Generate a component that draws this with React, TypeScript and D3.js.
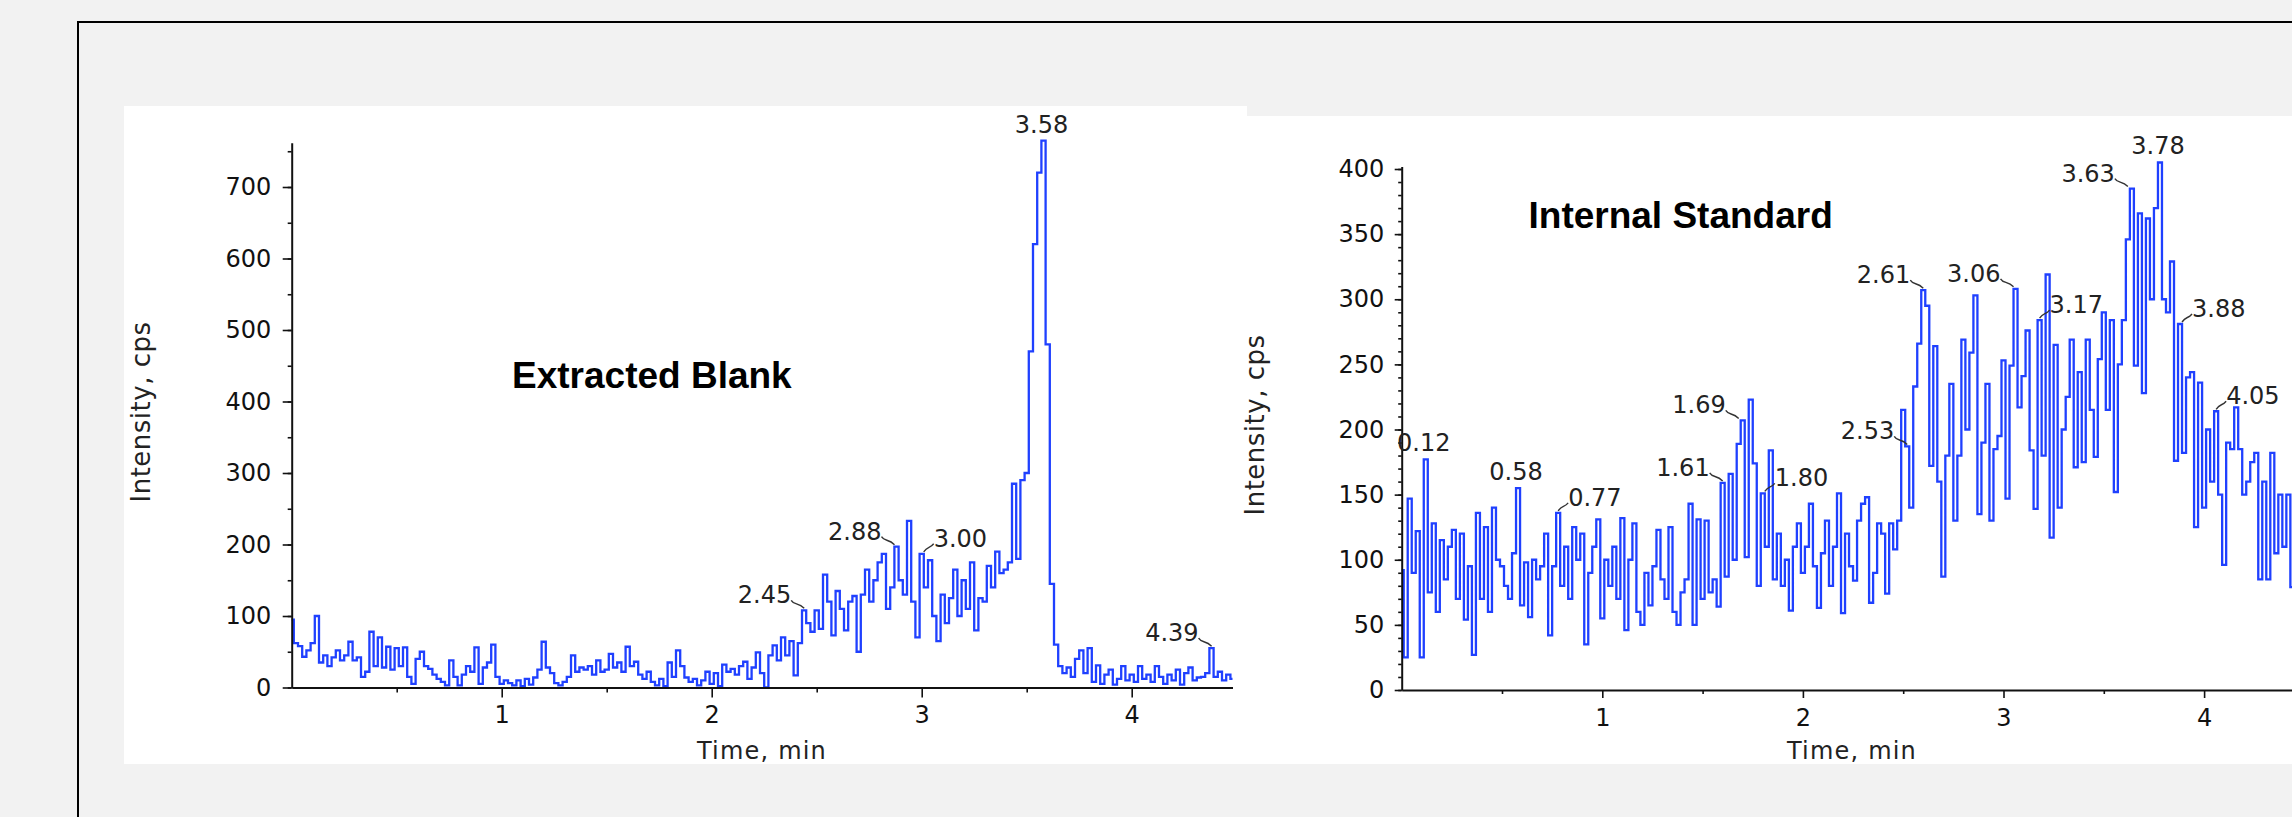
import React, { useRef, useEffect } from "react";
import * as d3 from "d3";

// acquisition interval, min
const SAMPLE_STEP = 0.02;

// Extracted Blank trace, cps (one value every SAMPLE_STEP from 0 min)
const blankIntensity = [
  95, 62, 58, 43, 52, 62, 100, 35, 45, 30,
  42, 52, 38, 45, 64, 38, 42, 15, 22, 78,
  30, 70, 28, 57, 25, 55, 30, 56, 15, 5,
  40, 50, 30, 26, 18, 12, 8, 3, 38, 15,
  3, 18, 30, 22, 56, 5, 28, 35, 60, 15,
  5, 10, 6, 3, 10, 2, 12, 4, 14, 25,
  64, 28, 20, 6, 3, 8, 15, 45, 22, 28,
  25, 30, 18, 38, 22, 25, 47, 28, 35, 22,
  57, 30, 36, 18, 12, 22, 8, 3, 12, 2,
  35, 15, 52, 30, 14, 8, 12, 3, 10, 22,
  5, 20, 2, 32, 22, 26, 18, 30, 36, 12,
  28, 49, 20, 0, 45, 59, 38, 70, 45, 65,
  17, 62, 108, 90, 78, 108, 82, 158, 120, 73,
  135, 110, 80, 120, 128, 50, 130, 165, 120, 150,
  175, 187, 110, 140, 197, 150, 130, 233, 120, 70,
  187, 140, 178, 100, 65, 130, 90, 125, 165, 100,
  150, 110, 175, 80, 125, 120, 170, 140, 190, 160,
  165, 175, 285, 180, 290, 300, 470, 620, 720, 765,
  480, 145, 60, 30, 20, 28, 15, 40, 52, 20,
  55, 8, 31, 5, 18, 25, 4, 12, 30, 10,
  18, 8, 30, 12, 18, 8, 30, 15, 5, 18,
  10, 25, 4, 20, 28, 10, 14, 15, 20, 55,
  15, 22, 10, 18, 12,
];

// Internal Standard trace, cps
const standardIntensity = [
  92, 25, 147, 90, 122, 25, 177, 75, 128, 60,
  115, 85, 110, 123, 70, 120, 54, 95, 27, 136,
  70, 125, 60, 140, 100, 95, 80, 70, 105, 155,
  65, 98, 56, 100, 85, 95, 120, 42, 95, 136,
  80, 110, 70, 125, 100, 120, 35, 90, 110, 131,
  55, 100, 80, 110, 70, 132, 46, 100, 128, 60,
  50, 90, 65, 95, 123, 85, 70, 125, 60, 50,
  75, 85, 143, 50, 131, 70, 130, 75, 85, 64,
  159, 87, 166, 100, 189, 207, 102, 223, 174, 80,
  151, 110, 184, 85, 120, 80, 100, 61, 110, 128,
  90, 110, 143, 95, 63, 105, 130, 80, 110, 151,
  59, 120, 95, 84, 130, 143, 148, 67, 90, 128,
  120, 74, 128, 108, 130, 215, 187, 140, 233, 266,
  307, 295, 172, 264, 160, 87, 180, 235, 130, 180,
  269, 200, 259, 303, 135, 190, 235, 130, 185, 195,
  253, 147, 249, 308, 217, 241, 276, 184, 139, 284,
  180, 319, 117, 265, 140, 200, 225, 269, 171, 244,
  175, 269, 215, 179, 254, 290, 215, 284, 152, 250,
  284, 346, 385, 249, 366, 228, 362, 300, 370, 405,
  300, 290, 329, 176, 281, 182, 240, 244, 125, 236,
  140, 200, 160, 214, 150, 96, 190, 185, 217, 185,
  150, 160, 175, 182, 85, 160, 85, 182, 105, 150,
  110, 150, 79, 140, 120,
];

// retention times printed over the peaks, and where the text sits
const blankPeakLabels = ["2.45", "2.88", "3.00", "3.58", "4.39"];
const blankPeakSides = ["left", "left", "right", "top", "left"];
const standardPeakLabels = ["0.12", "0.58", "0.77", "1.61", "1.69", "1.80", "2.53", "2.61", "3.06", "3.17", "3.63", "3.78", "3.88", "4.05"];
const standardPeakSides = ["top", "top", "right", "left", "left", "right", "left", "left", "left", "right", "left", "top", "right", "right"];

const timeTicks = [1, 2, 3, 4];
const timeMinorTicks = [0.5, 1.5, 2.5, 3.5];
const blankYTicks = [0, 100, 200, 300, 400, 500, 600, 700];
const standardYTicks = [0, 50, 100, 150, 200, 250, 300, 350, 400];
const TIME_MAX = 4.48;

const W = 2292;
const H = 817;
const TXT = "DejaVu Sans, Verdana, sans-serif";

const panels = [
  {
    title: "Extracted Blank",
    values: blankIntensity,
    labels: blankPeakLabels,
    sides: blankPeakSides,
    yTicks: blankYTicks,
    yMax: 762,
    yMinorStep: 50,
    bg: { x: 124, y: 106, w: 1123, h: 658 },
    x0: 291.7, pxPerMin: 210,
    y0: 687.5, pxPerUnit: 0.715,
    yTick: 9, yPad: 11.5, yMinor: 4,
    xTick: 10, xPad: 8.5, xMinor: 5,
    titlePos: [512, 388],
    yLabelPos: [150, 412],
    xLabelPos: [762, 759],
  },
  {
    title: "Internal Standard",
    values: standardIntensity,
    labels: standardPeakLabels,
    sides: standardPeakSides,
    yTicks: standardYTicks,
    yMax: 402,
    yMinorStep: 10,
    bg: { x: 1247, y: 116, w: 1045, h: 648 },
    x0: 1401.7, pxPerMin: 200.6,
    y0: 690, pxPerUnit: 1.3025,
    yTick: 7, yPad: 10.5, yMinor: 3.5,
    xTick: 8, xPad: 11, xMinor: 4,
    titlePos: [1528.5, 228],
    yLabelPos: [1264, 425],
    xLabelPos: [1852, 759],
  },
];

const App = () => {
  const svgRef = useRef<SVGSVGElement | null>(null);

  useEffect(() => {
    const svg = d3.select(svgRef.current);
    svg.selectAll("*").remove();

    // page background and the frame around the figure
    svg.append("rect").attr("width", W).attr("height", H).attr("fill", "#f2f2f2");
    svg.append("path")
      .attr("d", `M78,${H} L78,22 L${W},22`)
      .attr("fill", "none")
      .attr("stroke", "#000")
      .attr("stroke-width", 2);

    panels.forEach((p) => {
      const g = svg.append("g");

      g.append("rect")
        .attr("x", p.bg.x).attr("y", p.bg.y)
        .attr("width", p.bg.w).attr("height", p.bg.h)
        .attr("fill", "#fff");

      const x = d3.scaleLinear()
        .domain([0, TIME_MAX])
        .range([p.x0, p.x0 + TIME_MAX * p.pxPerMin]);
      const y = d3.scaleLinear()
        .domain([0, p.yMax])
        .range([p.y0, p.y0 - p.yMax * p.pxPerUnit]);

      // trace, drawn as steps like the acquisition software does
      const pts = p.values.map((v, i) => ({ t: i * SAMPLE_STEP, v }));
      const line = d3.line<{ t: number; v: number }>()
        .x((d) => x(d.t))
        .y((d) => y(d.v))
        .curve(d3.curveStep);
      g.append("path")
        .datum(pts)
        .attr("d", line)
        .attr("fill", "none")
        .attr("stroke", "#1f40ff")
        .attr("stroke-width", 2.3);

      // minor ticks
      g.append("g")
        .attr("transform", `translate(${p.x0},0)`)
        .call(d3.axisLeft(y).tickValues(d3.range(0, p.yMax, p.yMinorStep)).tickSize(p.yMinor).tickSizeOuter(0).tickFormat(() => ""))
        .call((a) => a.select(".domain").remove());
      g.append("g")
        .attr("transform", `translate(0,${p.y0})`)
        .call(d3.axisBottom(x).tickValues(timeMinorTicks).tickSize(p.xMinor).tickSizeOuter(0).tickFormat(() => ""))
        .call((a) => a.select(".domain").remove());

      // main axes
      const yAxis = g.append("g")
        .attr("transform", `translate(${p.x0},0)`)
        .call(d3.axisLeft(y).tickValues(p.yTicks).tickSize(p.yTick).tickPadding(p.yPad).tickSizeOuter(0).tickFormat(d3.format("d")));
      const xAxis = g.append("g")
        .attr("transform", `translate(0,${p.y0})`)
        .call(d3.axisBottom(x).tickValues(timeTicks).tickSize(p.xTick).tickPadding(p.xPad).tickSizeOuter(0).tickFormat(d3.format("d")));

      g.selectAll(".tick line").attr("stroke", "#111").attr("stroke-width", 1.6);
      [yAxis, xAxis].forEach((a) => {
        a.select(".domain").attr("stroke", "#111").attr("stroke-width", 2);
        a.selectAll("text")
          .attr("font-family", TXT)
          .attr("font-size", 24)
          .attr("fill", "#111");
      });

      // axis titles
      g.append("text")
        .attr("transform", `translate(${p.yLabelPos[0]},${p.yLabelPos[1]}) rotate(-90)`)
        .attr("text-anchor", "middle")
        .attr("font-family", TXT)
        .attr("font-size", 26)
        .attr("letter-spacing", 0.5)
        .attr("fill", "#222")
        .text("Intensity, cps");
      g.append("text")
        .attr("x", p.xLabelPos[0]).attr("y", p.xLabelPos[1])
        .attr("text-anchor", "middle")
        .attr("font-family", TXT)
        .attr("font-size", 24)
        .attr("letter-spacing", 1.2)
        .attr("fill", "#222")
        .text("Time, min");

      // panel title
      g.append("text")
        .attr("x", p.titlePos[0]).attr("y", p.titlePos[1])
        .attr("font-family", "Liberation Sans, Arial, sans-serif")
        .attr("font-weight", "bold")
        .attr("font-size", 37)
        .attr("fill", "#000")
        .text(p.title);

      // peak retention-time labels
      p.labels.forEach((lab, k) => {
        const t = +lab;
        const v = d3.max(pts.filter((d) => Math.abs(d.t - t) < 0.0151), (d) => d.v) ?? 0;
        const px = x(t);
        const py = y(v);
        const side = p.sides[k];
        const txt = g.append("text")
          .attr("font-family", TXT)
          .attr("font-size", 24)
          .attr("fill", "#222")
          .text(lab);
        if (side === "top") {
          txt.attr("x", px - 2).attr("y", py - 8).attr("text-anchor", "middle");
        } else if (side === "left") {
          txt.attr("x", px - 15).attr("y", py - 7).attr("text-anchor", "end");
          g.append("path")
            .attr("d", `M${px - 15},${py - 10} C${px - 12},${py - 5} ${px - 8},${py - 8} ${px - 2},${py - 2}`)
            .attr("fill", "none").attr("stroke", "#333").attr("stroke-width", 1.4);
        } else {
          txt.attr("x", px + 12).attr("y", py - 7).attr("text-anchor", "start");
          g.append("path")
            .attr("d", `M${px + 2},${py - 2} C${px + 6},${py - 8} ${px + 8},${py - 5} ${px + 12},${py - 10}`)
            .attr("fill", "none").attr("stroke", "#333").attr("stroke-width", 1.4);
        }
      });
    });
  }, []);

  return (
    <svg
      ref={svgRef}
      width={W}
      height={H}
      style={{ position: "absolute", left: 0, top: 0, display: "block" }}
    />
  );
};

export default App;
